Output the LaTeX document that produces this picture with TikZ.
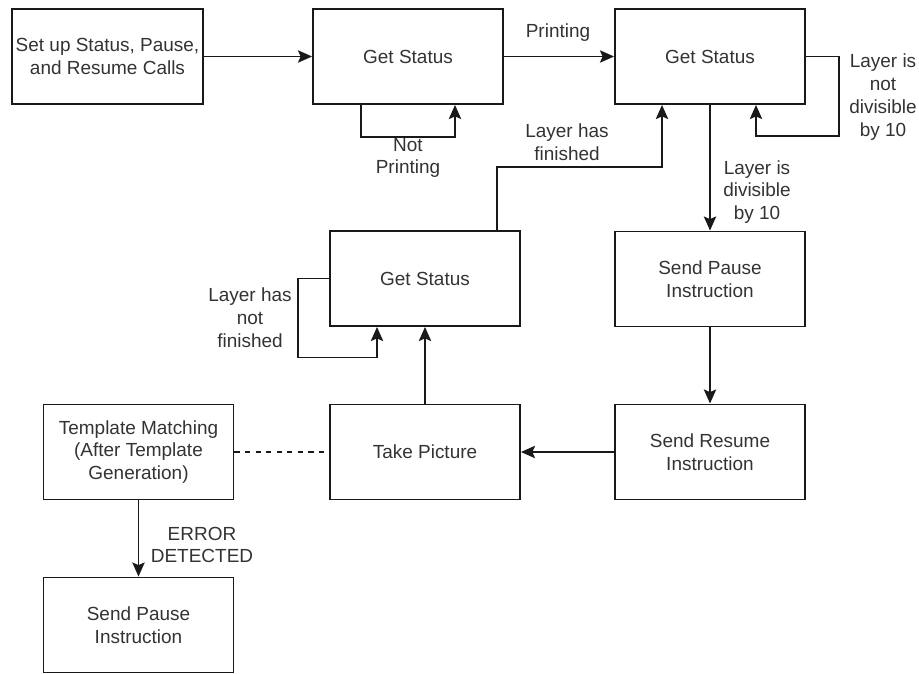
\documentclass[tikz,border=0pt]{standalone}
\usepackage{fontspec}
\setmainfont{Liberation Sans}
\usetikzlibrary{arrows.meta,calc}

\begin{document}
\begin{tikzpicture}[x=0.02cm, y=-0.02cm, line width=1.1pt, draw=black!90, >={Stealth[length=8pt,width=7pt,inset=1.5pt]}, font=\fontsize{10.8}{13}\selectfont]
        \tikzstyle{block}=[rectangle, draw=black!90, minimum width=3.8cm, minimum height=1.9cm, align=center, inner sep=2pt, text=black!80]
        \tikzstyle{note}=[align=center, inner sep=0pt, text=black!80]
        \tikzstyle{flow}=[->, draw=black!90]
        \useasboundingbox (0,0) rectangle (919,673);
        % boxes
        \node[block] (setup)   at (107.5,56.5) {Set up Status, Pause,\\and Resume Calls};
        \node[block] (status1) at (408,56.5)   {Get Status};
        \node[block] (status2) at (710,56.5)   {Get Status};
        \node[block] (status3) at (425,278.5)  {Get Status};
        \node[block] (pause1)  at (710,279)    {Send Pause\\Instruction};
        \node[block] (resume)  at (710,452)    {Send Resume\\Instruction};
        \node[block] (picture) at (425,452)    {Take Picture};
        \node[block] (match)   at (138.5,452)  {Template Matching\\(After Template\\Generation)};
        \node[block] (pause2)  at (138.5,625)  {Send Pause\\Instruction};
        % labels
        \node[note] (printing)    at (558,33)  {Printing};
        \node[note] (notprinting) at (408,158) {Not\\Printing};
        \node[note] (notdiv)      at (883,97)  {Layer is\\not\\divisible\\by 10};
        \node[note] (div)         at (757,192) {Layer is\\divisible\\by 10};
        \node[note] (finished)    at (567,142) {Layer has\\finished};
        \node[note] (notfinished) at (250,318) {Layer has\\not\\finished};
        \node[note] (error)       at (202,545) {ERROR\\DETECTED};
        % connectors
        \draw[flow] (setup) -- (status1);
        \draw[flow] (status1) -- (status2);
        \draw[flow] ($(status1.south)+(-47,0)$) -- ++(0,32) -| ($(status1.south)+(47,0)$);
        \draw[flow] (status2.east) -- ++(33,0) -- ++(0,79.5) -| ($(status2.south)+(46,0)$);
        \draw[flow] (status2) -- (pause1);
        \draw[flow] ($(status3.north)+(72,0)$) -- ++(0,-63) -| ($(status2.south)+(-48,0)$);
        \draw[flow] (status3.west) -- ++(-31,0) -- ++(0,79) -| ($(status3.south)+(-48,0)$);
        \draw[flow] (pause1) -- (resume);
        \draw[flow] (resume) -- (picture);
        \draw[flow] (picture) -- (status3);
        \draw[dashed] (match) -- (picture);
        \draw[flow] (match) -- (pause2);
\end{tikzpicture}
\end{document}
